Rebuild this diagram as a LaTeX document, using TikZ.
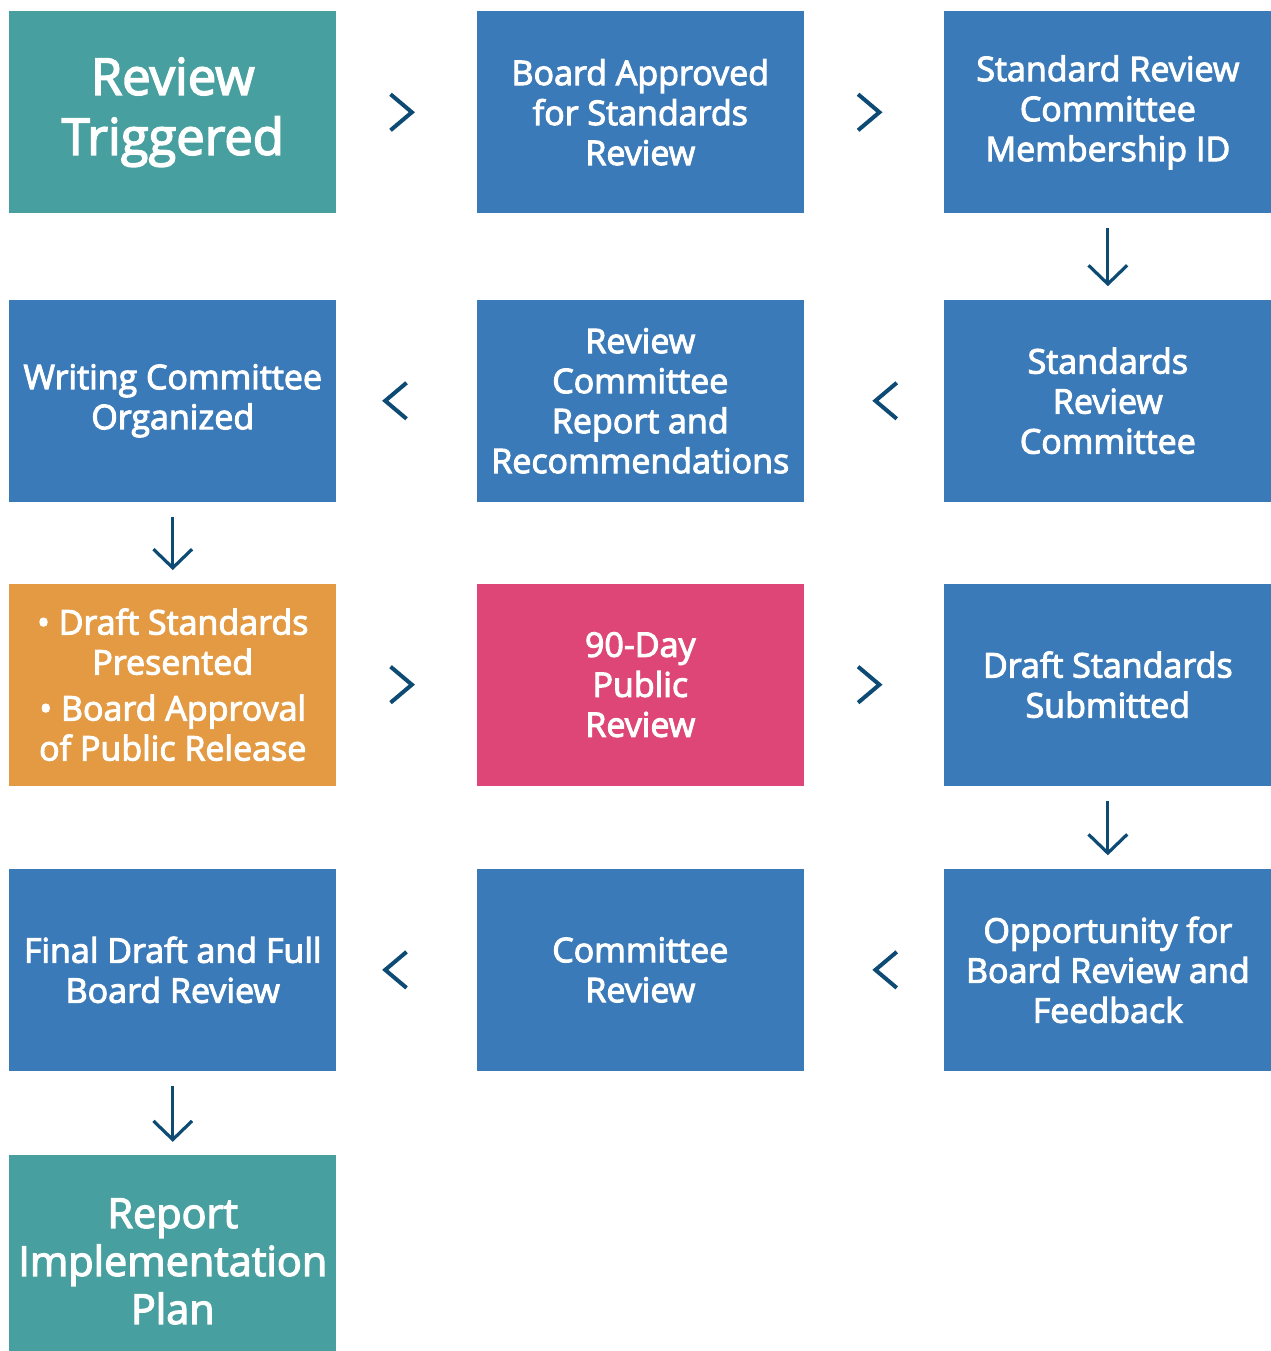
\documentclass[tikz,border=0pt]{standalone}
\usepackage{fontspec}
\setmainfont{Open Sans}[FakeBold=3]
\usetikzlibrary{arrows.meta,positioning,calc}
\definecolor{stageblue}{HTML}{3B7AB8}
\definecolor{endteal}{HTML}{489F9F}
\definecolor{draftorange}{HTML}{E39A42}
\definecolor{publicpink}{HTML}{DE4677}
\definecolor{arrowblue}{HTML}{0E4B74}

\tikzset{
  stage/.style={fill=stageblue, text=white, minimum width=245.25pt, minimum height=151.5pt,
    inner sep=0pt, align=center, font=\fontsize{25.5}{30}\selectfont},
  endbox/.style={stage, fill=endteal},
  chev/.style={draw=arrowblue, line width=3pt, line cap=butt, line join=miter},
  downarr/.style={draw=arrowblue, line width=2.2pt, shorten <=11pt, shorten >=10pt,
    -{Straight Barb[length=14pt, width=29pt, line width=2.4pt]}},
  chevright/.pic={\path[chev] (-8pt,13.5pt) -- (8pt,0) -- (-8pt,-13.5pt);},
  chevleft/.pic={\path[chev] (8pt,13.5pt) -- (-8pt,0) -- (8pt,-13.5pt);}
}

\begin{document}
\begin{tikzpicture}
\useasboundingbox (0,0) rectangle (952.5pt,-1013.25pt);

% row 1
\node[endbox, anchor=north west, font=\fontsize{38}{45}\selectfont] (trig) at (6.75pt,-8.25pt) {Review\\Triggered};
\node[stage, right=105pt of trig] (boardok) {Board Approved\\for Standards\\Review};
\node[stage, right=105pt of boardok] (membid) {Standard Review\\Committee\\Membership ID};

% row 2
\node[stage, below=64.5pt of membid] (src) {Standards\\Review\\Committee};
\node[stage, left=105pt of src] (report) {Review\\Committee\\Report and\\Recommendations};
\node[stage, left=105pt of report] (writing) {Writing Committee\\Organized};

% row 3
\node[stage, fill=draftorange, below=61pt of writing] (draft) {\textbullet\ Draft Standards\\Presented\\[4.5pt]\textbullet\ Board Approval\\of Public Release};
\node[stage, fill=publicpink, right=105pt of draft] (public) {90-Day\\Public\\Review};
\node[stage, right=105pt of public] (submit) {Draft Standards\\Submitted};

% row 4
\node[stage, below=62pt of submit] (feedback) {Opportunity for\\Board Review and\\Feedback};
\node[stage, left=105pt of feedback] (commrev) {Committee\\Review};
\node[stage, left=105pt of commrev] (final) {Final Draft and Full\\Board Review};

% row 5
\node[endbox, below=63pt of final, minimum height=159pt, font=\fontsize{31}{36}\selectfont] (plan) {Report\\Implementation\\Plan};

% connectors
\path ([xshift=-4pt]$(trig.east)!.5!(boardok.west)$) pic{chevright};
\path ([xshift=-4pt]$(boardok.east)!.5!(membid.west)$) pic{chevright};
\draw[downarr] (membid) -- (src);
\path ([xshift=9pt]$(src.west)!.5!(report.east)$) pic{chevleft};
\path ([xshift=-8pt]$(report.west)!.5!(writing.east)$) pic{chevleft};
\draw[downarr] (writing) -- (draft);
\path ([xshift=-4pt]$(draft.east)!.5!(public.west)$) pic{chevright};
\path ([xshift=-4pt]$(public.east)!.5!(submit.west)$) pic{chevright};
\draw[downarr] (submit) -- (feedback);
\path ([xshift=9pt]$(feedback.west)!.5!(commrev.east)$) pic{chevleft};
\path ([xshift=-8pt]$(commrev.west)!.5!(final.east)$) pic{chevleft};
\draw[downarr] (final) -- (plan);
\end{tikzpicture}
\end{document}
